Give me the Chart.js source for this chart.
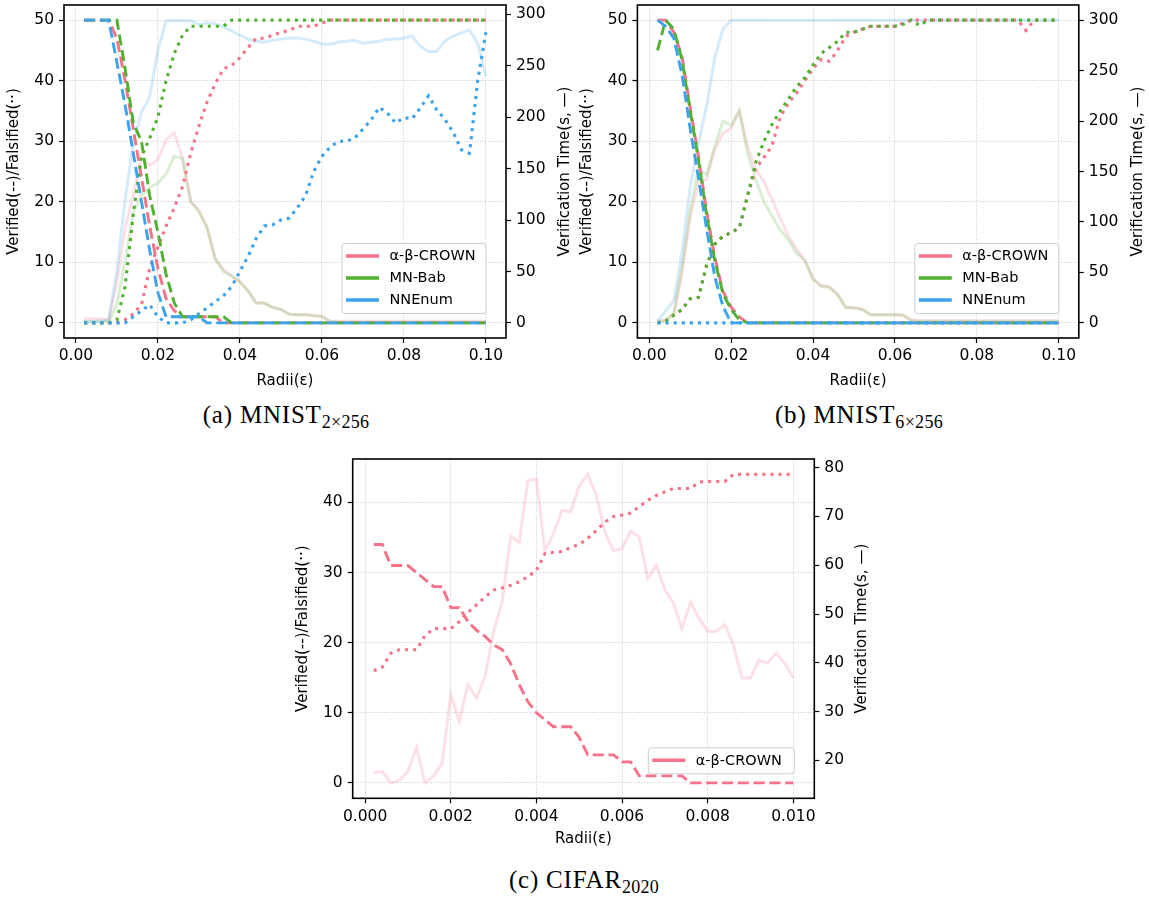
<!DOCTYPE html>
<html>
<head>
<meta charset="utf-8">
<script src="https://cdn.jsdelivr.net/npm/chart.js@4.4.1/dist/chart.umd.min.js"></script>
<style>
  html, body { margin: 0; padding: 0; background: #fff; }
  #wrap { position: relative; width: 1149px; height: 897px; overflow: hidden; }
  canvas { position: absolute; }
  .cap { position: absolute; font-family: "Liberation Serif", serif; font-size: 25px; letter-spacing: 0.8px;
         transform: translate(-50%, -50%); white-space: nowrap; color: #000; }
  .cap sub { font-size: 18px; vertical-align: baseline; position: relative; top: 5px; letter-spacing: 0.3px; }
</style>
</head>
<body>
<div id="wrap">
  <canvas id="chartA" width="574" height="400" style="left:0px;top:0px"></canvas>
  <canvas id="chartB" width="575" height="400" style="left:574px;top:0px"></canvas>
  <canvas id="chartC" width="586" height="400" style="left:288px;top:450px"></canvas>
  <div class="cap" style="left:286px;top:415px">(a) MNIST<sub>2×256</sub></div>
  <div class="cap" style="left:859px;top:415px">(b) MNIST<sub>6×256</sub></div>
  <div class="cap" style="left:584px;top:880px">(c) CIFAR<sub>2020</sub></div>
</div>
<script>
// rayons testés (axe x)
const radiiMnist = [0.002, 0.004, 0.006, 0.008, 0.010, 0.012, 0.014, 0.016, 0.018, 0.020,
  0.022, 0.024, 0.026, 0.028, 0.030, 0.032, 0.034, 0.036, 0.038, 0.040,
  0.042, 0.044, 0.046, 0.048, 0.050, 0.052, 0.054, 0.056, 0.058, 0.060,
  0.062, 0.064, 0.066, 0.068, 0.070, 0.072, 0.074, 0.076, 0.078, 0.080,
  0.082, 0.084, 0.086, 0.088, 0.090, 0.092, 0.094, 0.096, 0.098, 0.100];
const radiiCifar = [0.0002, 0.0004, 0.0006, 0.0008, 0.0010, 0.0012, 0.0014, 0.0016, 0.0018, 0.0020,
  0.0022, 0.0024, 0.0026, 0.0028, 0.0030, 0.0032, 0.0034, 0.0036, 0.0038, 0.0040,
  0.0042, 0.0044, 0.0046, 0.0048, 0.0050, 0.0052, 0.0054, 0.0056, 0.0058, 0.0060,
  0.0062, 0.0064, 0.0066, 0.0068, 0.0070, 0.0072, 0.0074, 0.0076, 0.0078, 0.0080,
  0.0082, 0.0084, 0.0086, 0.0088, 0.0090, 0.0092, 0.0094, 0.0096, 0.0098, 0.0100];

// ticks
const mnistXTicks = [0, 0.02, 0.04, 0.06, 0.08, 0.1];
const mnistXLabels = ['0.00', '0.02', '0.04', '0.06', '0.08', '0.10'];
const cifarXTicks = [0, 0.002, 0.004, 0.006, 0.008, 0.01];
const cifarXLabels = ['0.000', '0.002', '0.004', '0.006', '0.008', '0.010'];
const mnistCountTicks = [0, 10, 20, 30, 40, 50];
const mnistTimeTicks = [0, 50, 100, 150, 200, 250, 300];
const cifarCountTicks = [0, 10, 20, 30, 40];
const cifarTimeTicks = [20, 30, 40, 50, 60, 70, 80];

const toolNames = ['α-β-CROWN', 'MN-Bab', 'NNEnum'];
const toolColors = ['#f77189', '#50b131', '#3ba3ec'];

// (a) MNIST 2x256
const aCrownVerified = [50, 50, 50, 50, 47, 40, 32, 24, 16, 9,
  4, 2, 1, 1, 1, 1, 1, 0, 0, 0,
  0, 0, 0, 0, 0, 0, 0, 0, 0, 0,
  0, 0, 0, 0, 0, 0, 0, 0, 0, 0,
  0, 0, 0, 0, 0, 0, 0, 0, 0, 0];
const aCrownFalsified = [0, 0, 0, 0, 0, 0.5, 1.5, 3, 9, 12.5,
  16, 19, 22.5, 28, 32.5, 36.5, 39.5, 42, 42.5, 43.8,
  45.5, 47, 47, 47.5, 48, 48.3, 49, 49, 49, 49.5,
  50, 50, 50, 50, 50, 50, 50, 50, 50, 50,
  50, 50, 50, 50, 50, 50, 50, 50, 50, 50];
const aCrownTime = [4, 4, 4, 3, 40, 92, 125, 160, 153, 159,
  178, 185, 160, 118, 110, 93, 62, 52, 45, 40,
  31, 19.5, 19.5, 15, 13, 8.5, 8, 8, 7.5, 6.5,
  1.6, 1.5, 1.5, 1.5, 1.5, 1.5, 1.5, 1.5, 1.5, 1.5,
  1.5, 1.5, 1.5, 1.5, 1.5, 1.5, 1.5, 1.5, 1.5, 1.5];
const aMnbabVerified = [50, 50, 50, 50, 50, 42, 33, 30, 21, 15,
  8, 3.3, 1, 1, 1, 1, 1, 1, 0, 0,
  0, 0, 0, 0, 0, 0, 0, 0, 0, 0,
  0, 0, 0, 0, 0, 0, 0, 0, 0, 0,
  0, 0, 0, 0, 0, 0, 0, 0, 0, 0];
const aMnbabFalsified = [0, 0, 0, 0, 0.5, 6, 18, 27.5, 30.5, 34,
  40, 44.5, 47.5, 49, 49, 49, 49, 49, 50, 50,
  50, 50, 50, 50, 50, 50, 50, 50, 50, 50,
  50, 50, 50, 50, 50, 50, 50, 50, 50, 50,
  50, 50, 50, 50, 50, 50, 50, 50, 50, 50];
const aMnbabTime = [1, 1, 1, 1, 18, 60, 108, 124, 132, 136,
  145, 162, 160, 118, 108, 92, 62, 50, 46, 40,
  31, 19, 19, 15, 13, 8.5, 8, 8, 7, 6,
  1.5, 0.5, 0.5, 0.5, 0.5, 0.5, 0.5, 0.5, 0.5, 0.5,
  0.5, 0.5, 0.5, 0.5, 0.5, 0.5, 0.5, 0.5, 0.5, 0.5];
const aNnenumVerified = [50, 50, 50, 50, 43, 36, 28, 20, 12, 5,
  1, 1, 1, 1, 1, 0, 0, 0, 0, 0,
  0, 0, 0, 0, 0, 0, 0, 0, 0, 0,
  0, 0, 0, 0, 0, 0, 0, 0, 0, 0,
  0, 0, 0, 0, 0, 0, 0, 0, 0, 0];
const aNnenumFalsified = [0, 0, 0, 0, 0, 0, 1, 2, 3, 1,
  0, 0, 0, 0.5, 1.5, 2.5, 3.5, 4.5, 6, 8.5,
  11, 14, 16, 16.2, 17, 17.3, 19, 21, 25, 27.5,
  29, 30, 30, 30.5, 32, 33.5, 35.6, 34.6, 33, 33.9,
  33.7, 35.5, 37.5, 35.2, 33.6, 31.5, 28.6, 28, 40, 48];
const aNnenumTime = [1.6, 1.6, 1.6, 3, 50, 120, 175, 205, 220, 265,
  294, 294, 294, 294, 290, 292, 291, 288, 284, 280,
  276, 274, 273, 275, 276, 277, 277, 276, 274, 271,
  271, 273, 274, 275, 272, 273, 274, 276, 276, 277,
  279, 269, 264, 264, 274, 279, 282, 285, 272, 240];

// (b) MNIST 6x256
const bCrownVerified = [50, 50, 48, 44, 35.5, 27.5, 18.5, 10.8, 5.2, 2.6,
  1, 0, 0, 0, 0, 0, 0, 0, 0, 0,
  0, 0, 0, 0, 0, 0, 0, 0, 0, 0,
  0, 0, 0, 0, 0, 0, 0, 0, 0, 0,
  0, 0, 0, 0, 0, 0, 0, 0, 0, 0];
const bCrownFalsified = [0, 0.3, 1.3, 2.2, 4, 4.2, 9.5, 13, 14.3, 14.9,
  15.7, 21, 25.5, 27.3, 29.3, 34, 36.3, 38, 40, 42,
  43.5, 43.2, 45, 47.3, 48, 48.5, 49, 49, 49, 49,
  49.5, 50, 50, 50, 50, 50, 50, 50, 50, 50,
  50, 50, 50, 50, 50, 48.3, 50, 50, 50, 50];
const bCrownTime = [2, 3, 8, 50, 105, 140, 142, 172, 188, 193,
  210, 175, 152, 140, 122, 103, 86, 73, 62, 43,
  37, 36, 28, 15.5, 15, 14, 8, 8, 8, 8,
  7, 3, 2, 2, 2, 2, 2, 2, 2, 2,
  2, 2, 2, 2, 2, 2, 2, 2, 2, 2];
const bMnbabVerified = [45, 50, 48.5, 43.5, 35, 27, 17.8, 10.3, 4.8, 2.2,
  0.5, 0, 0, 0, 0, 0, 0, 0, 0, 0,
  0, 0, 0, 0, 0, 0, 0, 0, 0, 0,
  0, 0, 0, 0, 0, 0, 0, 0, 0, 0,
  0, 0, 0, 0, 0, 0, 0, 0, 0, 0];
const bMnbabFalsified = [0, 0.3, 1.3, 2.2, 4, 4.2, 9.5, 13, 14.3, 14.9,
  15.7, 21, 26.5, 30, 32.8, 35, 37, 39, 40.5, 42.6,
  44.5, 45.5, 46.5, 48, 48, 48.5, 49, 49, 49, 49,
  49.3, 50, 49.1, 50, 50, 50, 50, 50, 50, 50,
  50, 50, 50, 50, 50, 50, 50, 50, 50, 50];
const bMnbabTime = [1, 2, 10, 55, 112, 152, 147, 175, 200, 196,
  210, 168, 142, 120, 106, 92, 82, 69, 62, 44,
  36, 35, 28, 15, 15, 13, 8, 8, 8, 8,
  8, 2, 1.5, 1.5, 1.5, 1.5, 1.5, 1.5, 1.5, 1.5,
  1.5, 1.5, 1.5, 1.5, 1.5, 1.5, 1.5, 1.5, 1.5, 1.5];
const bNnenumVerified = [50, 49, 47, 41, 32, 24, 15.5, 7.6, 2.7, 0,
  0, 0, 0, 0, 0, 0, 0, 0, 0, 0,
  0, 0, 0, 0, 0, 0, 0, 0, 0, 0,
  0, 0, 0, 0, 0, 0, 0, 0, 0, 0,
  0, 0, 0, 0, 0, 0, 0, 0, 0, 0];
const bNnenumFalsified = [0, 0, 0, 0, 0, 0, 0, 0, 0, 0,
  0, 0, 0, 0, 0, 0, 0, 0, 0, 0,
  0, 0, 0, 0, 0, 0, 0, 0, 0, 0,
  0, 0, 0, 0, 0, 0, 0, 0, 0, 0,
  0, 0, 0, 0, 0, 0, 0, 0, 0, 0];
const bNnenumTime = [2, 12, 22, 70, 135, 178, 215, 263, 291, 300,
  300, 300, 300, 300, 300, 300, 300, 300, 300, 300,
  300, 300, 300, 300, 300, 300, 300, 300, 300, 300,
  300, 300, 300, 300, 300, 300, 300, 300, 300, 300,
  300, 300, 300, 300, 300, 300, 300, 300, 300, 300];

// (c) CIFAR 2020 (α-β-CROWN seul)
const cCrownVerified = [34, 34, 31, 31, 31, 30, 29, 28, 28, 25,
  25, 23, 21.8, 20.9, 19.7, 19, 17, 14, 11.6, 10,
  9, 8, 8, 8, 6.5, 4, 4, 4, 4, 3,
  3, 1, 1, 1, 1, 1, 1, 0, 0, 0,
  0, 0, 0, 0, 0, 0, 0, 0, 0, 0];
const cCrownFalsified = [16, 16.5, 18.5, 19, 19, 19, 21, 22, 22, 22,
  23, 24.3, 25.4, 26.5, 27.5, 27.8, 28.2, 28.7, 29.4, 30.3,
  32.7, 32.9, 33, 33.6, 34, 34.9, 36, 37.2, 38, 38.2,
  38.5, 39.4, 40.3, 41, 41.5, 42, 42, 42, 42.9, 43,
  43, 43, 44, 44, 44, 44, 44, 44, 44, 44];
const cCrownTime = [17.5, 17.7, 15.4, 15.9, 17.8, 22.6, 15.4, 16.8, 19.5, 33.5,
  28, 35.5, 32.8, 37.2, 46.4, 52.5, 66, 64.6, 77.3, 77.7,
  63, 66.5, 71.2, 70.9, 76.3, 78.6, 74.3, 66.8, 63, 63.4,
  67, 65.8, 57.3, 60, 54.9, 52.2, 47, 52.5, 49.1, 46.4,
  46.4, 47.8, 43.7, 36.9, 36.9, 40.6, 39.9, 42, 39.9, 36.9];

function rgba(hex, a) {
  const n = parseInt(hex.slice(1), 16);
  return 'rgba(' + (n >> 16) + ',' + ((n >> 8) & 255) + ',' + (n & 255) + ',' + a + ')';
}

function pts(radii, vals) {
  return radii.map((r, k) => ({ x: r, y: vals[k] }));
}

// construit les datasets dans l'ordre de dessin matplotlib (le dernier au-dessus)
function buildDatasets(radii, tools) {
  const list = [];
  tools.forEach(t => {
    list.push({ data: pts(radii, t.time), yAxisID: 'yR', borderColor: rgba(t.color, 0.22), borderWidth: 3 });
  });
  tools.forEach(t => {
    list.push({ data: pts(radii, t.verified), yAxisID: 'yL', borderColor: t.color, borderWidth: 2.9, borderDash: [11, 4.8] });
    list.push({ data: pts(radii, t.falsified), yAxisID: 'yL', borderColor: t.color, borderWidth: 3.1, borderDash: [3.1, 5] });
  });
  list.forEach((d, i) => {
    d.order = list.length - i;
    d.pointRadius = 0;
    d.tension = 0;
    d.fill = false;
    d.borderCapStyle = 'butt';
  });
  return list;
}

const tickFont = { family: 'DejaVu Sans', size: 15.5 };

function fixTicks(vals) {
  return sc => { sc.ticks = vals.map(v => ({ value: v })); };
}
function fixSize(prop, size) {
  return sc => {
    sc[prop] = size;
    sc.paddingLeft = 0; sc.paddingRight = 0; sc.paddingTop = 0; sc.paddingBottom = 0;
  };
}

function buildScales(s) {
  const gridBase = { color: '#c4c4c4', lineWidth: 0.9, tickColor: '#000', tickLength: 5, tickWidth: 1.2 };
  return {
    x: {
      type: 'linear', position: 'bottom', bounds: 'data', min: s.xMin, max: s.xMax,
      afterBuildTicks: fixTicks(s.xTicks), afterFit: fixSize('height', s.bottomH),
      ticks: { callback: (v, i) => s.xLabels[i], font: tickFont, color: '#000', padding: 4, maxRotation: 0, minRotation: 0, autoSkip: false },
      grid: gridBase, border: { display: false, dash: [1, 1.6] }
    },
    yL: {
      type: 'linear', position: 'left', bounds: 'data', min: s.lMin, max: s.lMax,
      afterBuildTicks: fixTicks(s.lTicks), afterFit: fixSize('width', s.leftW),
      ticks: { callback: (v, i) => String(s.lTicks[i]), font: tickFont, color: '#000', padding: 5 },
      grid: gridBase, border: { display: false, dash: [1, 1.6] }
    },
    yR: {
      type: 'linear', position: 'right', bounds: 'data', min: s.rMin, max: s.rMax,
      afterBuildTicks: fixTicks(s.rTicks), afterFit: fixSize('width', s.rightW),
      ticks: { callback: (v, i) => String(s.rTicks[i]), font: tickFont, color: '#000', padding: 5 },
      grid: Object.assign({}, gridBase, { drawOnChartArea: false }), border: { display: false }
    }
  };
}

// cadre, titres d'axes et légende
const decorPlugin = {
  id: 'decor',
  afterDraw(chart, args, o) {
    const { ctx, chartArea: a } = chart;
    ctx.save();
    ctx.strokeStyle = '#000';
    ctx.lineWidth = 1.6;
    ctx.strokeRect(a.left, a.top, a.right - a.left, a.bottom - a.top);

    ctx.fillStyle = '#000';
    ctx.font = '15px "DejaVu Sans"';
    ctx.textAlign = 'center';
    ctx.textBaseline = 'middle';
    const midY = (a.top + a.bottom) / 2;
    ctx.fillText('Radii(ε)', (a.left + a.right) / 2, a.bottom + o.xGap);
    ctx.save();
    ctx.translate(a.left - o.leftGap, midY);
    ctx.rotate(-Math.PI / 2);
    ctx.fillText('Verified(--)/Falsified(··)', 0, 0);
    ctx.restore();
    ctx.save();
    ctx.translate(a.right + o.rightGap, midY);
    ctx.rotate(-Math.PI / 2);
    ctx.fillText('Verification Time(s, —)', 0, 0);
    ctx.restore();

    // légende
    const items = o.legend;
    const bw = o.legendW, bh = 26 + 22 * (items.length - 1);
    const bx = a.right - 20.5 - bw, by = a.bottom - 25 - bh;
    ctx.beginPath();
    if (ctx.roundRect) ctx.roundRect(bx + 0.5, by + 0.5, bw, bh, 3); else ctx.rect(bx + 0.5, by + 0.5, bw, bh);
    ctx.fillStyle = 'rgba(255,255,255,0.8)';
    ctx.fill();
    ctx.strokeStyle = '#cccccc';
    ctx.lineWidth = 1;
    ctx.stroke();
    ctx.font = '14.5px "DejaVu Sans"';
    ctx.textAlign = 'left';
    items.forEach((it, k) => {
      const yy = by + 13 + 22 * k;
      ctx.strokeStyle = it.color;
      ctx.lineWidth = 3.5;
      ctx.beginPath();
      ctx.moveTo(bx + 4.5, yy);
      ctx.lineTo(bx + 37.5, yy);
      ctx.stroke();
      ctx.fillStyle = '#000';
      ctx.fillText(it.name, bx + 48, yy + 0.5);
    });
    ctx.restore();
  }
};

function makeChart(id, radii, tools, s, decor, padTop) {
  return new Chart(document.getElementById(id), {
    type: 'line',
    data: { datasets: buildDatasets(radii, tools) },
    options: {
      responsive: false,
      animation: false,
      layout: { padding: { top: padTop, left: 0, right: 0, bottom: 0 } },
      scales: buildScales(s),
      plugins: { legend: { display: false }, tooltip: { enabled: false }, decor: decor }
    },
    plugins: [decorPlugin]
  });
}

const legend3 = toolNames.map((n, i) => ({ name: n, color: toolColors[i] }));

makeChart('chartA', radiiMnist, [
  { color: toolColors[0], verified: aCrownVerified, falsified: aCrownFalsified, time: aCrownTime },
  { color: toolColors[1], verified: aMnbabVerified, falsified: aMnbabFalsified, time: aMnbabTime },
  { color: toolColors[2], verified: aNnenumVerified, falsified: aNnenumFalsified, time: aNnenumTime }
], {
  xMin: -0.0029, xMax: 0.1049, xTicks: mnistXTicks, xLabels: mnistXLabels,
  lMin: -2.5, lMax: 52.5, lTicks: mnistCountTicks,
  rMin: -14.7, rMax: 309.2, rTicks: mnistTimeTicks,
  leftW: 64, rightW: 68, bottomH: 62
}, { xGap: 43, leftGap: 50, rightGap: 59, legend: legend3, legendW: 144 }, 5);

makeChart('chartB', radiiMnist, [
  { color: toolColors[0], verified: bCrownVerified, falsified: bCrownFalsified, time: bCrownTime },
  { color: toolColors[1], verified: bMnbabVerified, falsified: bMnbabFalsified, time: bMnbabTime },
  { color: toolColors[2], verified: bNnenumVerified, falsified: bNnenumFalsified, time: bNnenumTime }
], {
  xMin: -0.0029, xMax: 0.1049, xTicks: mnistXTicks, xLabels: mnistXLabels,
  lMin: -2.5, lMax: 52.5, lTicks: mnistCountTicks,
  rMin: -15, rMax: 315, rTicks: mnistTimeTicks,
  leftW: 63.4, rightW: 70.2, bottomH: 62
}, { xGap: 43, leftGap: 50, rightGap: 59, legend: legend3, legendW: 144 }, 5);

makeChart('chartC', radiiCifar, [
  { color: toolColors[0], verified: cCrownVerified, falsified: cCrownFalsified, time: cCrownTime }
], {
  xMin: -0.00029, xMax: 0.01049, xTicks: cifarXTicks, xLabels: cifarXLabels,
  lMin: -2.2, lMax: 46.2, lTicks: cifarCountTicks,
  rMin: 12.24, rMax: 81.76, rTicks: cifarTimeTicks,
  leftW: 64.7, rightW: 59.7, bottomH: 51.7
}, { xGap: 41, leftGap: 50, rightGap: 48, legend: [legend3[0]], legendW: 146 }, 9);
</script>
</body>
</html>
